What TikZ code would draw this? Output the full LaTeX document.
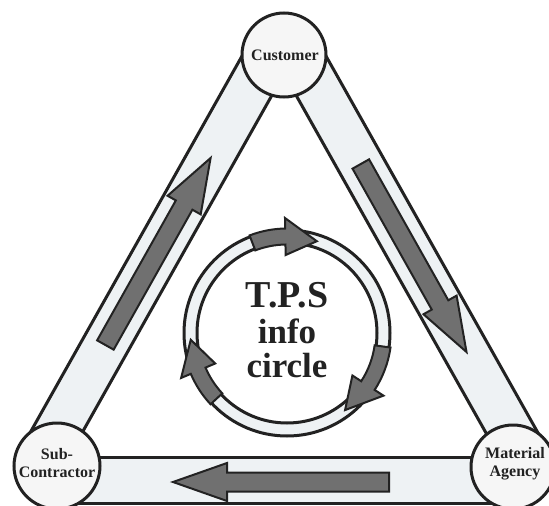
\documentclass[tikz,border=0pt]{standalone}
\usepackage{fontspec}
\setmainfont{Liberation Serif}
\usetikzlibrary{calc}
\definecolor{ink}{HTML}{222222}
\definecolor{bandfill}{HTML}{EEF2F4}
\definecolor{arrowfill}{HTML}{707070}
\definecolor{circfill}{HTML}{F6F6F6}
\newcommand\ringarr[3]{%
  \path[ringarrow] (#1:104.5) arc[start angle=#1, end angle=#2, radius=104.5]
    -- (#2:115) -- (#3:96.5) -- (#2:78) -- (#2:88.5)
    arc[start angle=#2, end angle=#1, radius=88.5] -- cycle;}
\newcommand\bigarr[3]{%
  \coordinate (#3) at ($(#2)!54pt!(#1)$);
  \draw[bigarrow] ($(#1)!9.5pt!90:(#2)$) -- ($(#3)!9.5pt!90:(#2)$)
    -- ($(#3)!19pt!90:(#2)$) -- (#2) -- ($(#3)!19pt!-90:(#2)$)
    -- ($(#3)!9.5pt!-90:(#2)$) -- ($(#1)!9.5pt!-90:(#2)$) -- cycle;}
\begin{document}
\begin{tikzpicture}[x=1pt,y=-1pt,
  band/.style={draw=ink, fill=bandfill, line width=3pt, line join=round},
  station/.style={circle, draw=ink, fill=circfill, line width=3pt, inner sep=0pt},
  lbl/.style={font=\bfseries\fontsize{16}{18}\selectfont, align=center, text=ink, inner sep=0pt},
  bigtxt/.style={font=\bfseries\fontsize{#1}{#1}\selectfont, text=ink, inner sep=0pt, anchor=base},
  bigarrow/.style={draw=ink, fill=arrowfill, line width=2pt, line join=miter},
  ringarrow/.style={draw=ink, fill=arrowfill, line width=2pt, line join=miter},
  ring/.style={draw=ink, fill=bandfill, line width=3pt, even odd rule},
]
\useasboundingbox (0,0) rectangle (549,506);
\fill[white] (0,0) rectangle (549,506);

% bands (sides of the triangle)
\draw[band] (245.4,50) -- (280.5,80) -- (75.2,445) -- (23.2,445) -- cycle;
\draw[band] (322.6,50) -- (287.5,80) -- (492.8,445) -- (544.8,445) -- cycle;
\draw[band] (70,457) -- (500,457) -- (500,503) -- (70,503) -- cycle;

% stations
\node[station, minimum size=84pt] (cust) at (284,55) {};
\node[station, minimum size=86pt] (sub) at (57,466) {};
\node[station, minimum size=84pt] (mat) at (513,467) {};
\node[lbl] (custt) at (285,55) {Customer};
\node[lbl] (subt) at (57,463) {Sub-\\Contractor};
\node[lbl] (matt) at (515,464) {Material\\Agency};

% big arrows along the bands
\coordinate (la1) at (105.4,345); \coordinate (la2) at (210.6,158);
\coordinate (ra1) at (360.8,164); \coordinate (ra2) at (466.5,352);
\coordinate (ba1) at (389,482);   \coordinate (ba2) at (173,482);
\bigarr{la1}{la2}{lah}
\bigarr{ra1}{ra2}{rah}
\bigarr{ba1}{ba2}{bah}

% info circle
\coordinate (ctr) at (287,333);
\draw[ring] (ctr) circle[radius=103] (ctr) circle[radius=90];
\begin{scope}[shift={(ctr)}, yscale=-1]
  \ringarr{111}{91}{72}
  \ringarr{-8}{-33}{-53}
  \ringarr{223}{203}{184}
\end{scope}
\node[bigtxt=38] (tps) at (287,307) {T.P.S};
\node[bigtxt=35] (info) at (287,343) {info};
\node[bigtxt=35] (circ) at (287,377) {circle};
\end{tikzpicture}
\end{document}
